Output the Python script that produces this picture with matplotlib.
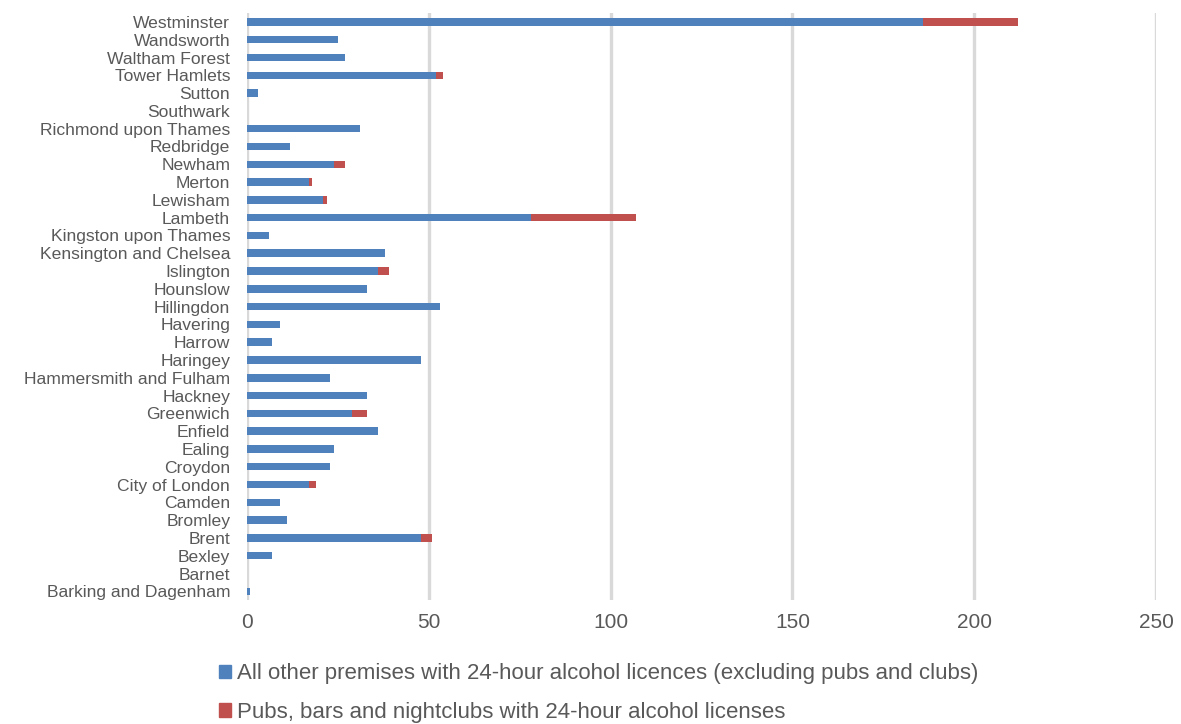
import matplotlib.pyplot as plt
from matplotlib.patches import Patch
import numpy as np

plt.rcParams['font.family'] = ['Liberation Sans', 'DejaVu Sans']

boroughs = ['Barking and Dagenham', 'Barnet', 'Bexley', 'Brent', 'Bromley', 'Camden',
            'City of London', 'Croydon', 'Ealing', 'Enfield', 'Greenwich', 'Hackney',
            'Hammersmith and Fulham', 'Haringey', 'Harrow', 'Havering', 'Hillingdon',
            'Hounslow', 'Islington', 'Kensington and Chelsea', 'Kingston upon Thames',
            'Lambeth', 'Lewisham', 'Merton', 'Newham', 'Redbridge', 'Richmond upon Thames',
            'Southwark', 'Sutton', 'Tower Hamlets', 'Waltham Forest', 'Wandsworth',
            'Westminster']
other_premises = [1, 0, 7, 48, 11, 9, 17, 23, 24, 36, 29, 33, 23, 48, 7, 9, 53, 33, 36,
                  38, 6, 78, 21, 17, 24, 12, 31, 0, 3, 52, 27, 25, 186]
pubs_clubs = [0, 0, 0, 3, 0, 0, 2, 0, 0, 0, 4, 0, 0, 0, 0, 0, 0, 0, 3, 0, 0, 29, 1, 1,
              3, 0, 0, 0, 0, 2, 0, 0, 26]
x_ticks = [0, 50, 100, 150, 200, 250]

blue = '#4F81BD'
red = '#C0504D'
text_grey = '#595959'

fig = plt.figure(figsize=(11.81, 7.24), dpi=100)
ax = fig.add_axes([0.209, 0.171, 0.770, 0.811])

y = np.arange(len(boroughs))
ax.barh(y, other_premises, height=0.42, color=blue, zorder=3)
ax.barh(y, pubs_clubs, left=other_premises, height=0.42, color=red, zorder=3)

ax.set_xlim(0, 250)
ax.set_ylim(-0.5, len(boroughs) - 0.5)
ax.set_xticks(x_ticks)
ax.set_yticks(y)
ax.set_yticklabels(boroughs, fontsize=12.6, color=text_grey)
ax.tick_params(axis='x', labelsize=15, colors=text_grey, length=0, pad=9)
ax.tick_params(axis='y', length=0, pad=12)
ax.xaxis.grid(True, color='#d9d9d9', linewidth=2.4, zorder=0)
ax.set_axisbelow(True)
for s in ax.spines.values():
    s.set_visible(False)

handles = [Patch(color=blue), Patch(color=red)]
labels = ['All other premises with 24-hour alcohol licences (excluding pubs and clubs)',
          'Pubs, bars and nightclubs with 24-hour alcohol licenses']
fig.legend(handles, labels, loc='upper left', bbox_to_anchor=(0.1854, 0.084),
           frameon=False, fontsize=16, handlelength=0.55, handleheight=0.55,
           handletextpad=0.25, labelspacing=0.8, borderaxespad=0, borderpad=0,
           labelcolor=text_grey)

fig.savefig('out.png', dpi=100)
